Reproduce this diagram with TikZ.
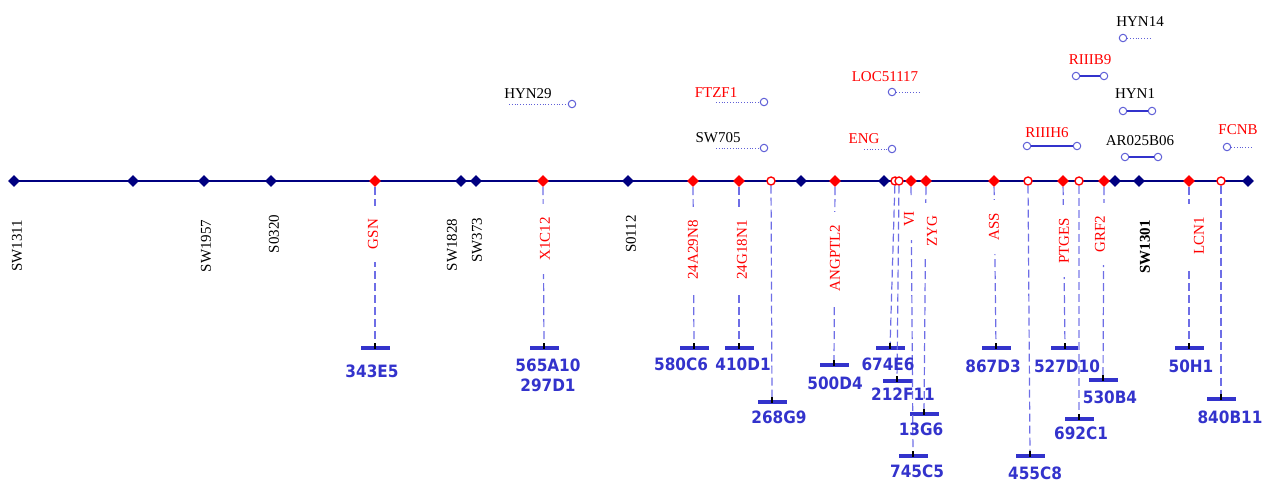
\documentclass[tikz,border=0pt]{standalone}
\usepackage{fontspec}
\setmainfont{Liberation Serif}
\newfontfamily\clonefont{DejaVu Sans Condensed}
\usepackage{tikz}
\usetikzlibrary{shapes.geometric}

\definecolor{axisblue}{RGB}{0,0,128}
\definecolor{clonecol}{RGB}{51,51,204}
\definecolor{dashcol}{RGB}{110,110,230}
\definecolor{probecol}{RGB}{95,95,215}

\begin{document}
\begin{tikzpicture}[x=1pt, y=-1pt,
    axis/.style={draw=axisblue, line width=1.8pt},
    mk/.style={diamond, fill=axisblue, inner sep=0pt, minimum size=12pt},
    gene/.style={diamond, fill=red, inner sep=0pt, minimum size=12pt},
    est/.style={circle, draw=red, fill=white, line width=1.4pt, inner sep=0pt, minimum size=8pt},
    marklab/.style={rotate=90, inner sep=1pt, font=\fontsize{15}{18}\selectfont},
    genelab/.style={marklab, text=red, fill=white, inner xsep=13pt},
    link/.style={draw=dashcol, line width=1.2pt, dash pattern=on 8pt off 4pt},
    bar/.style={rectangle, fill=clonecol, inner sep=0pt, minimum width=29pt, minimum height=4.5pt},
    tick/.style={draw=black, line width=1.5pt},
    clone/.style={text=clonecol, font=\clonefont\bfseries\fontsize{17}{20}\selectfont, align=center, inner sep=0pt},
    probe/.style={circle, draw=probecol, fill=white, line width=1pt, inner sep=0pt, minimum size=7.5pt},
    pair/.style={draw=clonecol, line width=1.2pt},
    single/.style={draw=probecol, line width=0.8pt, dotted},
    plab/.style={font=\fontsize{15}{18}\selectfont, inner sep=0pt}
]
    \useasboundingbox (0,0) rectangle (1263,482);

    % map axis
    \coordinate (axL) at (14,181);
    \coordinate (axR) at (1248,181);
    \draw[axis] (axL) -- (axR);

    % framework markers
    \node[mk] (sw1311) at (14,181) {};
    \node[mk] (m133) at (133,181) {};
    \node[mk] (sw1957) at (204,181) {};
    \node[mk] (s0320) at (271,181) {};
    \node[mk] (sw1828) at (461,181) {};
    \node[mk] (sw373) at (476,181) {};
    \node[mk] (s0112) at (628,181) {};
    \node[mk] (m801) at (801,181) {};
    \node[mk] (m884) at (884,181) {};
    \node[mk] (m1115) at (1115,181) {};
    \node[mk] (sw1301) at (1139,181) {};
    \node[mk] (m1248) at (1248,181) {};

    % genes and ESTs
    \node[gene] (gsn) at (375,181) {};
    \node[gene] (x1c12) at (543,181) {};
    \node[gene] (g24a) at (693,181) {};
    \node[gene] (g24g) at (739,181) {};
    \node[est] (e771) at (771,181) {};
    \node[gene] (angptl2) at (835,181) {};
    \node[est] (e895) at (895,181) {};
    \node[est] (e899) at (899,181) {};
    \node[gene] (vi) at (911,181) {};
    \node[gene] (zyg) at (926,181) {};
    \node[gene] (ass) at (994,181) {};
    \node[est] (e1028) at (1028,181) {};
    \node[gene] (ptges) at (1063,181) {};
    \node[est] (e1079) at (1079,181) {};
    \node[gene] (grf2) at (1104,181) {};
    \node[gene] (lcn1) at (1189,181) {};
    \node[est] (e1221) at (1221,181) {};

    % BAC clones
    \node[bar] (b343) at (375,348) {};
    \node[bar] (b565) at (544,348) {};
    \node[bar] (b580) at (694,348) {};
    \node[bar] (b410) at (739,348) {};
    \node[bar] (b268) at (772,402) {};
    \node[bar] (b500) at (834,365) {};
    \node[bar] (b674) at (890,348) {};
    \node[bar] (b212) at (897,381) {};
    \node[bar] (b745) at (913,456) {};
    \node[bar] (b13) at (924,414) {};
    \node[bar] (b867) at (996,348) {};
    \node[bar] (b455) at (1030,456) {};
    \node[bar] (b527) at (1065,348) {};
    \node[bar] (b692) at (1079,419) {};
    \node[bar] (b530) at (1103,380) {};
    \node[bar] (b50) at (1189,348) {};
    \node[bar] (b840) at (1221,399) {};

    \draw[link] (gsn) -- (b343);
    \draw[link] (x1c12) -- (b565);
    \draw[link] (g24a) -- (b580);
    \draw[link] (g24g) -- (b410);
    \draw[link] (e771) -- (b268);
    \draw[link] (angptl2) -- (b500);
    \draw[link] (e895) -- (b674);
    \draw[link] (e899) -- (b212);
    \draw[link] (vi) -- (b745);
    \draw[link] (zyg) -- (b13);
    \draw[link] (ass) -- (b867);
    \draw[link] (e1028) -- (b455);
    \draw[link] (ptges) -- (b527);
    \draw[link, draw=dashcol!60] (e1079) -- (b692);
    \draw[link] (grf2) -- (b530);
    \draw[link] (lcn1) -- (b50);
    \draw[link] (e1221) -- (b840);

    \foreach \b in {b343,b565,b580,b410,b268,b500,b674,b212,b745,b13,b867,b455,b527,b692,b530,b50,b840}
        \draw[tick] ([yshift=5pt]\b.center) -- ([yshift=-1pt]\b.center);

    % marker names
    \node[marklab] (t1311) at (17,246) {SW1311};
    \node[marklab] (t1957) at (206,246) {SW1957};
    \node[marklab] (t0320) at (274,234) {S0320};
    \node[marklab] (t1828) at (452,245) {SW1828};
    \node[marklab] (t373) at (477,240) {SW373};
    \node[marklab] (t0112) at (631,234) {S0112};
    \node[marklab, font=\fontsize{15}{18}\selectfont\bfseries] (t1301) at (1145,247) {SW1301};

    % gene names
    \node[genelab] (tgsn) at (373,234) {GSN};
    \node[genelab] (tx1c12) at (545,239) {X1C12};
    \node[genelab] (t24a) at (693,250) {24A29N8};
    \node[genelab] (t24g) at (742,250) {24G18N1};
    \node[genelab] (tangptl2) at (835,258) {ANGPTL2};
    \node[genelab] (tvi) at (909,219) {VI};
    \node[genelab, inner ysep=3pt] (tzyg) at (932,231) {ZYG};
    \node[genelab] (tass) at (994,227) {ASS};
    \node[genelab] (tptges) at (1064,241) {PTGES};
    \node[genelab] (tgrf2) at (1100,234) {GRF2};
    \node[genelab, inner ysep=6pt] (tlcn1) at (1199,236) {LCN1};

    % clone names
    \node[clone] (l343) at (372,371) {343E5};
    \node[clone] (l565) at (548,375) {565A10\\297D1};
    \node[clone] (l580) at (681,364) {580C6};
    \node[clone] (l410) at (743,364) {410D1};
    \node[clone] (l268) at (779,417) {268G9};
    \node[clone] (l500) at (835,383) {500D4};
    \node[clone] (l674) at (888,364) {674E6};
    \node[clone] (l212) at (903,394) {212F11};
    \node[clone] (l13) at (921,429) {13G6};
    \node[clone] (l745) at (917,471) {745C5};
    \node[clone] (l867) at (993,366) {867D3};
    \node[clone] (l527) at (1067,366) {527D10};
    \node[clone] (l530) at (1110,397) {530B4};
    \node[clone] (l692) at (1081,433) {692C1};
    \node[clone] (l455) at (1035,473) {455C8};
    \node[clone] (l50) at (1191,366) {50H1};
    \node[clone] (l840) at (1230,417) {840B11};

    % probes above the map
    \coordinate (hyn29a) at (509,104);
    \node[probe] (hyn29b) at (572,104) {};
    \draw[single] (hyn29a) -- (hyn29b);
    \node[plab] at (528,94) {HYN29};

    \coordinate (ftzf1a) at (716,102);
    \node[probe] (ftzf1b) at (764,102) {};
    \draw[single] (ftzf1a) -- (ftzf1b);
    \node[plab, text=red] at (716,93) {FTZF1};

    \coordinate (sw705a) at (716,148);
    \node[probe] (sw705b) at (764,148) {};
    \draw[single] (sw705a) -- (sw705b);
    \node[plab] at (718,138) {SW705};

    \node[probe] (loca) at (892,92) {};
    \coordinate (locb) at (921,92);
    \draw[single] (loca) -- (locb);
    \node[plab, text=red] at (885,77) {LOC51117};

    \coordinate (enga) at (864,149);
    \node[probe] (engb) at (892,149) {};
    \draw[single] (enga) -- (engb);
    \node[plab, text=red] at (864,139) {ENG};

    \node[probe] (hyn14a) at (1123,38) {};
    \coordinate (hyn14b) at (1150,38);
    \draw[single] (hyn14a) -- (hyn14b);
    \node[plab] at (1140,22) {HYN14};

    \node[probe] (riiib9a) at (1076,76) {};
    \node[probe] (riiib9b) at (1104,76) {};
    \draw[pair] (riiib9a) -- (riiib9b);
    \node[plab, text=red] at (1090,60) {RIIIB9};

    \node[probe] (hyn1a) at (1123,111) {};
    \node[probe] (hyn1b) at (1152,111) {};
    \draw[pair] (hyn1a) -- (hyn1b);
    \node[plab] at (1135,94) {HYN1};

    \node[probe] (riiih6a) at (1027,146) {};
    \node[probe] (riiih6b) at (1077,146) {};
    \draw[pair] (riiih6a) -- (riiih6b);
    \node[plab, text=red] at (1047,133) {RIIIH6};

    \node[probe] (ar025a) at (1125,157) {};
    \node[probe] (ar025b) at (1158,157) {};
    \draw[pair] (ar025a) -- (ar025b);
    \node[plab] at (1140,141) {AR025B06};

    \node[probe] (fcnba) at (1227,147) {};
    \coordinate (fcnbb) at (1253,147);
    \draw[single] (fcnba) -- (fcnbb);
    \node[plab, text=red] at (1238,130) {FCNB};
\end{tikzpicture}
\end{document}
